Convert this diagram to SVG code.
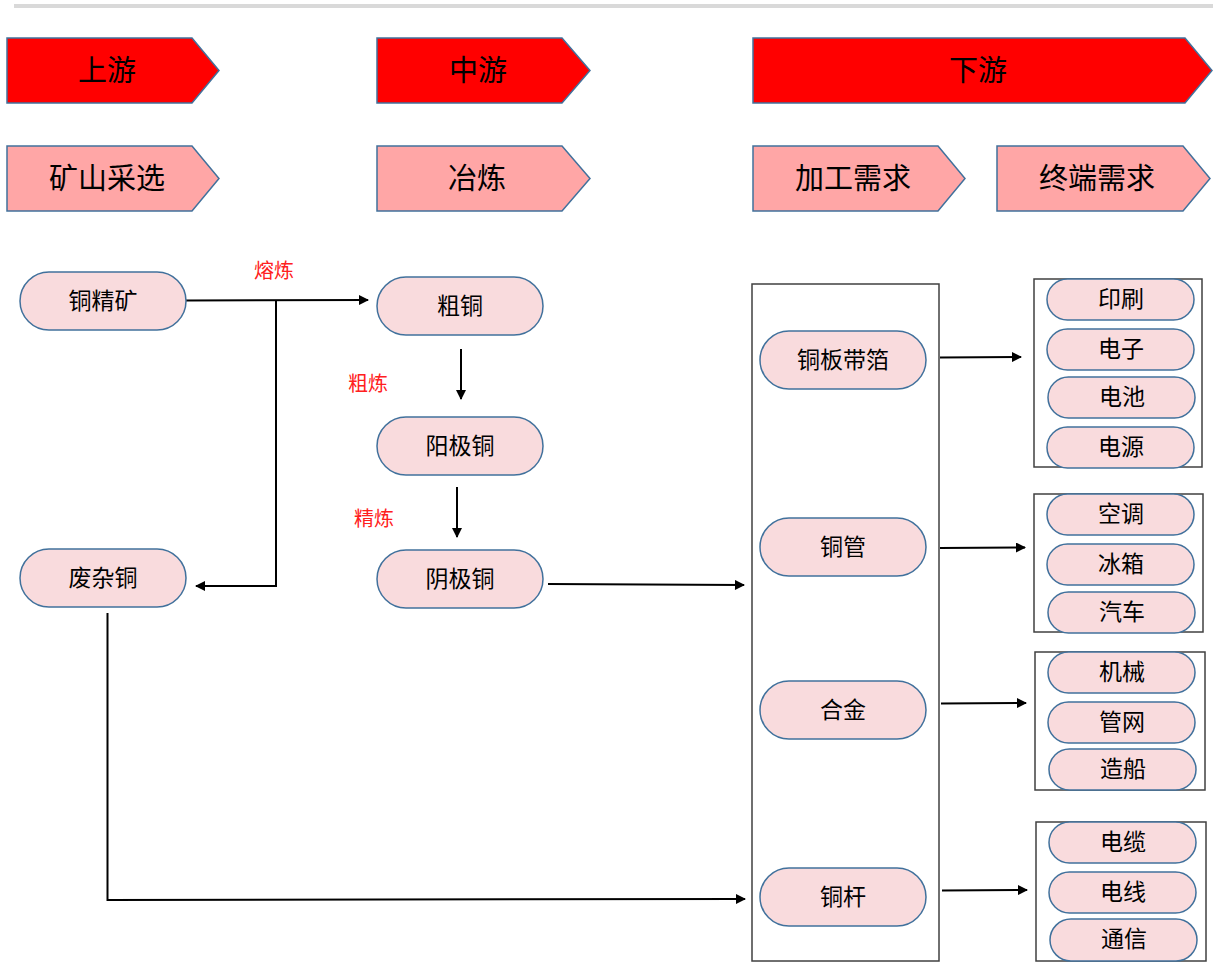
<svg xmlns="http://www.w3.org/2000/svg" width="1213" height="978" viewBox="0 0 1213 978">
<style>
.red{fill:#ff0000;stroke:#41719c;stroke-width:1.5}
.pink{fill:#ffa6a6;stroke:#41719c;stroke-width:1.5}
.ht{font-family:"Noto Sans CJK SC","Liberation Sans",sans-serif;font-size:29px;fill:#000;text-anchor:middle;dominant-baseline:central}
.pill{fill:#f9dbdd;stroke:#41719c;stroke-width:1.5}
.pt{font-family:"Noto Sans CJK SC","Liberation Sans",sans-serif;font-size:23px;fill:#000;text-anchor:middle;dominant-baseline:central}
.lbl{font-family:"Noto Sans CJK SC","Liberation Sans",sans-serif;font-size:20px;fill:#ff2020;text-anchor:middle;dominant-baseline:central}
.box{fill:none;stroke:#404040;stroke-width:1.5}
.ln{fill:none;stroke:#000;stroke-width:2}
</style>
<defs>
<marker id="ah" viewBox="0 0 10 10" refX="9" refY="5" markerWidth="5.5" markerHeight="5" orient="auto" markerUnits="strokeWidth">
<path d="M0,0 L10,5 L0,10 Z" fill="#000"/>
</marker>
</defs>
<rect width="1213" height="978" fill="#fff"/>
<line x1="14" y1="6" x2="1213" y2="6" stroke="#d9d9d9" stroke-width="4"/>

<g id="header-upstream"><path class="red" d="M7,38 H192 L219,70.5 L192,103 H7 Z"/><text class="ht" x="107" y="68">上游</text></g>
<g id="header-midstream"><path class="red" d="M377,38 H562 L590,70.5 L562,103 H377 Z"/><text class="ht" x="478" y="68">中游</text></g>
<g id="header-downstream"><path class="red" d="M753,38 H1185 L1212,70.5 L1185,103 H753 Z"/><text class="ht" x="978" y="68">下游</text></g>
<g id="stage-mining"><path class="pink" d="M7,146 H192 L219,178.5 L192,211 H7 Z"/><text class="ht" x="107" y="176">矿山采选</text></g>
<g id="stage-smelting"><path class="pink" d="M377,146 H562 L590,178.5 L562,211 H377 Z"/><text class="ht" x="477" y="176">冶炼</text></g>
<g id="stage-processing"><path class="pink" d="M753,146 H938 L965,178.5 L938,211 H753 Z"/><text class="ht" x="853" y="176">加工需求</text></g>
<g id="stage-terminal"><path class="pink" d="M997,146 H1183 L1210,178.5 L1183,211 H997 Z"/><text class="ht" x="1097" y="176">终端需求</text></g>

<g id="connectors">
<line class="ln" x1="186" y1="300.5" x2="368" y2="300" marker-end="url(#ah)"/>
<polyline class="ln" points="276,300.5 276,586 196,586" marker-end="url(#ah)"/>
<line class="ln" x1="461" y1="349" x2="461" y2="399" marker-end="url(#ah)" stroke-width="1.6"/>
<line class="ln" x1="457" y1="487" x2="457" y2="537" marker-end="url(#ah)" stroke-width="1.6"/>
<line class="ln" x1="548" y1="584" x2="744" y2="585" marker-end="url(#ah)"/>
<polyline class="ln" points="107.5,613 107.5,900 745,899" marker-end="url(#ah)"/>
<line class="ln" x1="940" y1="357.5" x2="1021" y2="357" marker-end="url(#ah)"/>
<line class="ln" x1="940" y1="548" x2="1025" y2="547.5" marker-end="url(#ah)"/>
<line class="ln" x1="941" y1="703.5" x2="1026" y2="703" marker-end="url(#ah)"/>
<line class="ln" x1="942" y1="890.5" x2="1027" y2="890" marker-end="url(#ah)"/>
<text class="lbl" x="274" y="269">熔炼</text>
<text class="lbl" x="368" y="382">粗炼</text>
<text class="lbl" x="374" y="517">精炼</text>
</g>

<g id="node-concentrate"><rect class="pill" x="20" y="272" width="166" height="58" rx="29"/><text class="pt" x="103" y="299">铜精矿</text></g>
<g id="node-scrap"><rect class="pill" x="20" y="549" width="166" height="58" rx="29"/><text class="pt" x="103" y="576">废杂铜</text></g>
<g id="node-blister"><rect class="pill" x="377" y="277" width="166" height="58" rx="29"/><text class="pt" x="460" y="304">粗铜</text></g>
<g id="node-anode"><rect class="pill" x="377" y="417" width="166" height="58" rx="29"/><text class="pt" x="460" y="444">阳极铜</text></g>
<g id="node-cathode"><rect class="pill" x="377" y="550" width="166" height="58" rx="29"/><text class="pt" x="460" y="577">阴极铜</text></g>

<g id="processing-box">
<rect class="box" x="752" y="284" width="187" height="677"/>
<g id="node-strip"><rect class="pill" x="760" y="331" width="166" height="58" rx="29"/><text class="pt" x="843" y="358">铜板带箔</text></g>
<g id="node-tube"><rect class="pill" x="760" y="518" width="166" height="58" rx="29"/><text class="pt" x="843" y="545">铜管</text></g>
<g id="node-alloy"><rect class="pill" x="760" y="681" width="166" height="58" rx="29"/><text class="pt" x="843" y="708">合金</text></g>
<g id="node-rod"><rect class="pill" x="760" y="868" width="166" height="58" rx="29"/><text class="pt" x="843" y="895">铜杆</text></g>
</g>

<g id="terminal-group-1">
<rect class="box" x="1034" y="279" width="168" height="188"/>
<g id="node-printing"><rect class="pill" x="1047" y="279" width="147" height="41" rx="20.5"/><text class="pt" x="1121" y="297">印刷</text></g>
<g id="node-electronics"><rect class="pill" x="1047" y="329" width="147" height="41" rx="20.5"/><text class="pt" x="1121" y="347">电子</text></g>
<g id="node-battery"><rect class="pill" x="1048" y="377" width="147" height="41" rx="20.5"/><text class="pt" x="1122" y="395">电池</text></g>
<g id="node-power"><rect class="pill" x="1047" y="427" width="147" height="41" rx="20.5"/><text class="pt" x="1121" y="445">电源</text></g>
</g>

<g id="terminal-group-2">
<rect class="box" x="1034" y="494" width="169" height="138"/>
<g id="node-ac"><rect class="pill" x="1047" y="494" width="147" height="41" rx="20.5"/><text class="pt" x="1121" y="512">空调</text></g>
<g id="node-fridge"><rect class="pill" x="1047" y="544" width="147" height="41" rx="20.5"/><text class="pt" x="1121" y="562">冰箱</text></g>
<g id="node-auto"><rect class="pill" x="1048" y="592" width="147" height="41" rx="20.5"/><text class="pt" x="1122" y="610">汽车</text></g>
</g>

<g id="terminal-group-3">
<rect class="box" x="1035" y="652" width="170" height="138"/>
<g id="node-machinery"><rect class="pill" x="1048" y="652" width="147" height="41" rx="20.5"/><text class="pt" x="1122" y="670">机械</text></g>
<g id="node-pipe"><rect class="pill" x="1048" y="702" width="147" height="41" rx="20.5"/><text class="pt" x="1122" y="720">管网</text></g>
<g id="node-ship"><rect class="pill" x="1049" y="749" width="147" height="41" rx="20.5"/><text class="pt" x="1123" y="767">造船</text></g>
</g>

<g id="terminal-group-4">
<rect class="box" x="1036" y="822" width="170" height="139"/>
<g id="node-cable"><rect class="pill" x="1049" y="822" width="147" height="41" rx="20.5"/><text class="pt" x="1123" y="840">电缆</text></g>
<g id="node-wire"><rect class="pill" x="1049" y="872" width="147" height="41" rx="20.5"/><text class="pt" x="1123" y="890">电线</text></g>
<g id="node-telecom"><rect class="pill" x="1050" y="919" width="147" height="42" rx="21"/><text class="pt" x="1124" y="937">通信</text></g>
</g>
</svg>
